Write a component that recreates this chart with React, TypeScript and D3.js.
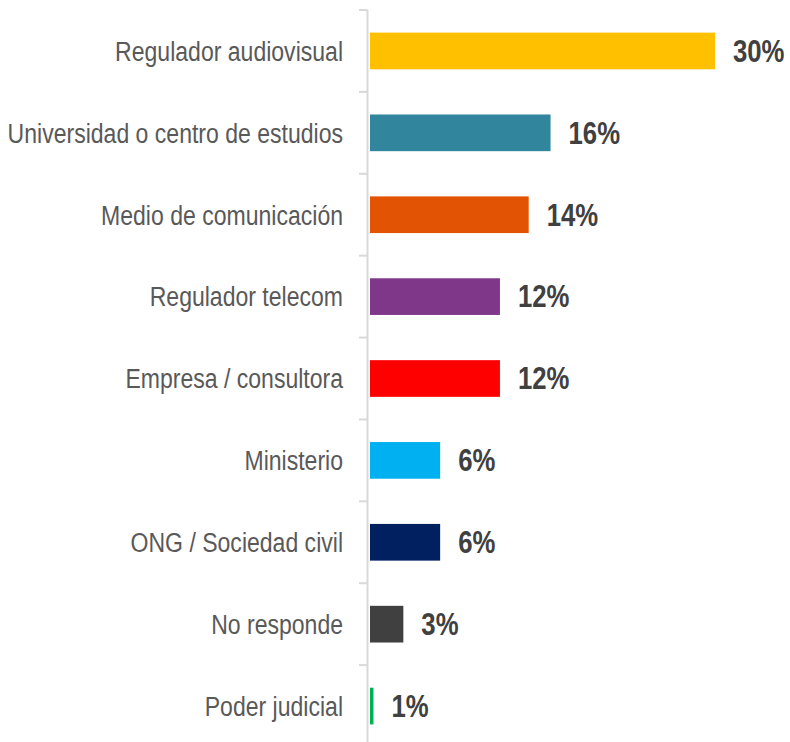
import React from "react";
import * as d3 from "d3";

const categories = [
  "Regulador audiovisual",
  "Universidad o centro de estudios",
  "Medio de comunicación",
  "Regulador telecom",
  "Empresa / consultora",
  "Ministerio",
  "ONG / Sociedad civil",
  "No responde",
  "Poder judicial",
];
const values = [30, 15.7, 13.8, 11.3, 11.3, 6.1, 6.1, 2.9, 0.3];
const valueLabels = ["30%", "16%", "14%", "12%", "12%", "6%", "6%", "3%", "1%"];
const colors = [
  "#FFC000",
  "#31859C",
  "#E25303",
  "#7F3889",
  "#FF0000",
  "#00B0F0",
  "#002060",
  "#404040",
  "#00B050",
];

const W = 790;
const H = 742;
const FONT = "'Liberation Sans', Arial, sans-serif";
const NARROW_CAT = 0.823;
const NARROW_VAL = 0.83;

export default function App() {
  const axisX = 367.5;
  const x = d3.scaleLinear().domain([0, 30]).range([370, 715]);
  const y = d3
    .scaleBand<string>()
    .domain(categories)
    .range([10, 747])
    .paddingInner(0.552)
    .paddingOuter(0.276);
  const step = y.step();
  const boundaries = d3.range(categories.length).map((i) => 10 + i * step);

  return (
    <svg
      width={W}
      height={H}
      style={{ position: "absolute", left: 0, top: 0, background: "#fff" }}
    >
      <line x1={axisX} x2={axisX} y1={10} y2={H} stroke="#d9d9d9" strokeWidth={2} />
      {boundaries.map((b, i) => (
        <line key={i} x1={359} x2={axisX} y1={b} y2={b} stroke="#d9d9d9" strokeWidth={2} />
      ))}
      {categories.map((c, i) => {
        const yc = (y(c) as number) + y.bandwidth() / 2;
        const lx = x(values[i]) + 18;
        return (
          <g key={c}>
            <rect
              x={x(0)}
              y={y(c)}
              width={x(values[i]) - x(0)}
              height={y.bandwidth()}
              fill={colors[i]}
            />
            <text
              transform={`translate(343,${yc}) scale(${NARROW_CAT},1)`}
              dy="0.35em"
              textAnchor="end"
              fontFamily={FONT}
              fontSize={28}
              fill="#595959"
            >
              {c}
            </text>
            <text
              transform={`translate(${lx},${yc}) scale(${NARROW_VAL},1)`}
              dy="0.35em"
              fontFamily={FONT}
              fontSize={31}
              fontWeight="bold"
              fill="#404040"
            >
              {valueLabels[i]}
            </text>
          </g>
        );
      })}
    </svg>
  );
}
